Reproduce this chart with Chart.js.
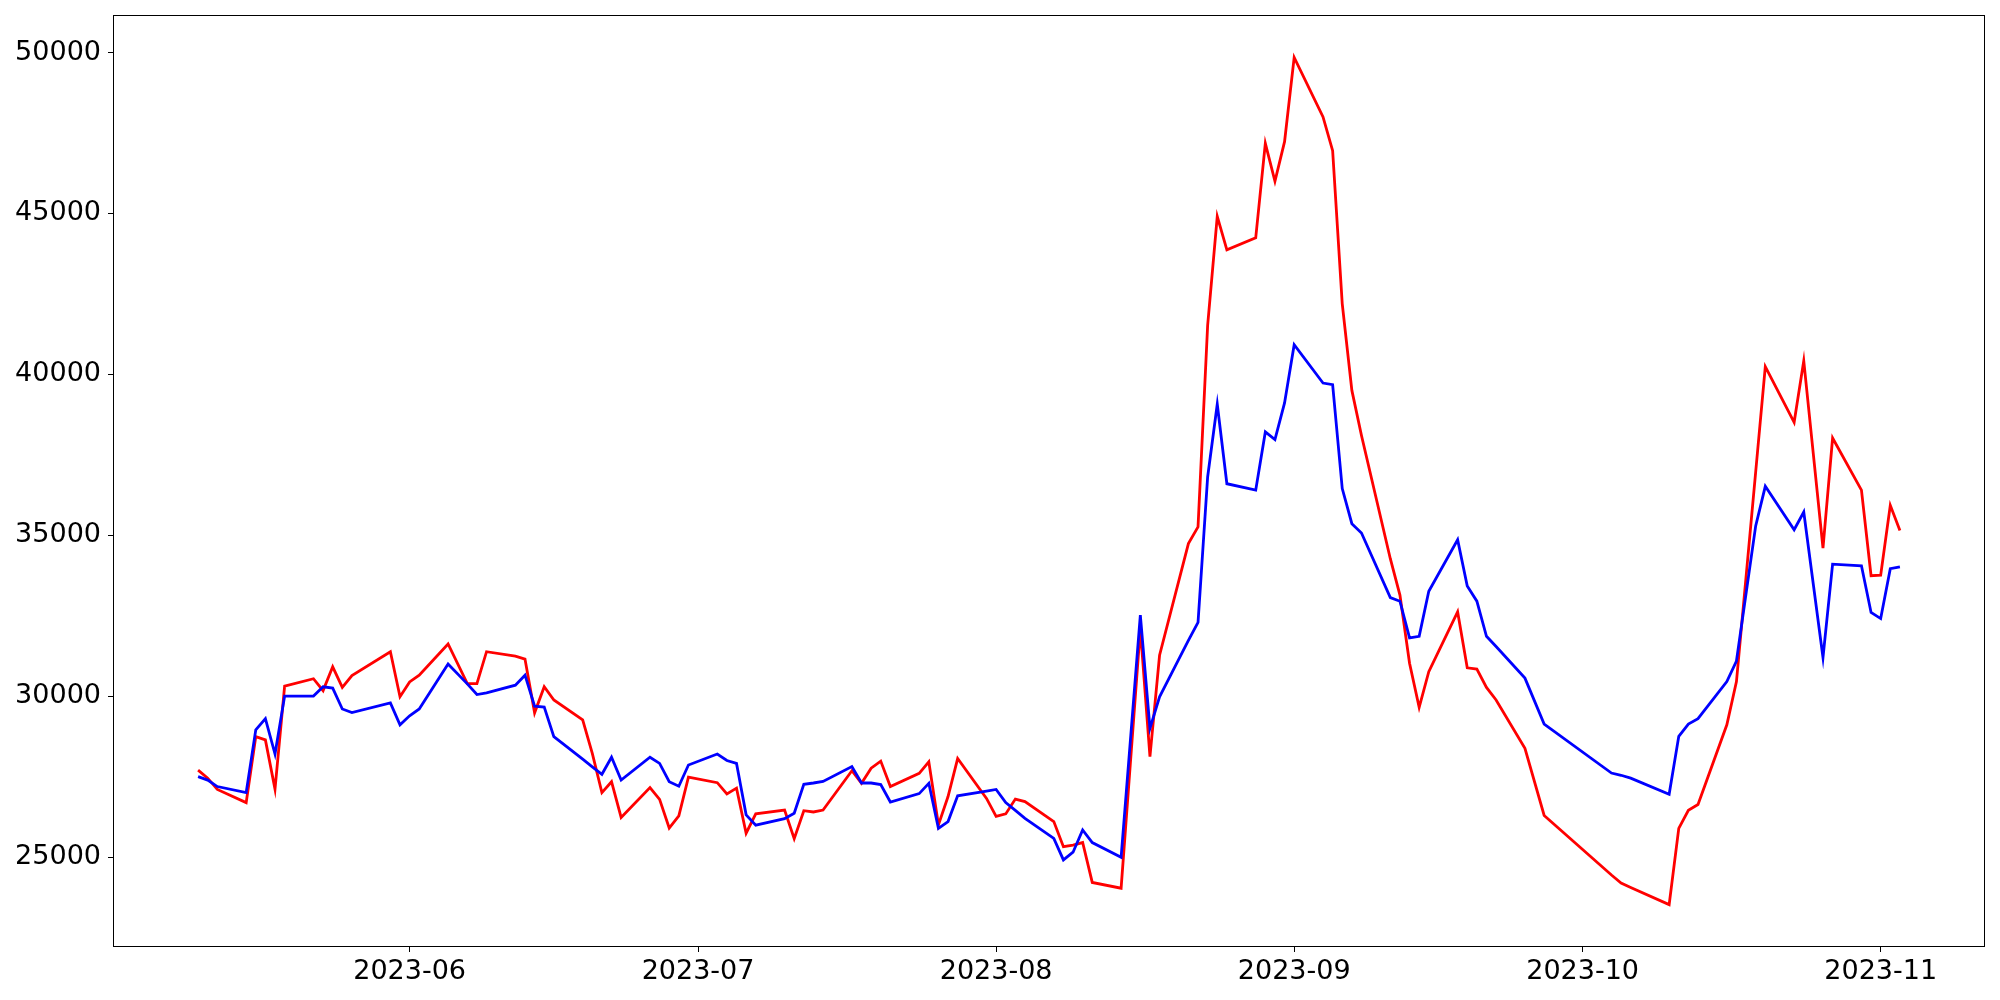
<!DOCTYPE html>
<html>
<head>
<meta charset="utf-8">
<script src="https://cdn.jsdelivr.net/npm/chart.js@4.4.0/dist/chart.umd.min.js"></script>
<style>
  html, body { margin: 0; padding: 0; background: #fff; }
  canvas { display: block; }
</style>
</head>
<body>
<canvas id="chart" width="2000" height="1000"></canvas>
<script>
// trading dates (some weekdays are missing in the source)
const dates = [
  '2023-05-10', '2023-05-11', '2023-05-12', '2023-05-15', '2023-05-16', '2023-05-17', '2023-05-18', '2023-05-19',
  '2023-05-22', '2023-05-23', '2023-05-24', '2023-05-25', '2023-05-26', '2023-05-30', '2023-05-31',
  '2023-06-01', '2023-06-02', '2023-06-05', '2023-06-07', '2023-06-08', '2023-06-09', '2023-06-12', '2023-06-13',
  '2023-06-14', '2023-06-15', '2023-06-16', '2023-06-19', '2023-06-20', '2023-06-21', '2023-06-22', '2023-06-23',
  '2023-06-26', '2023-06-27', '2023-06-28', '2023-06-29', '2023-06-30',
  '2023-07-03', '2023-07-04', '2023-07-05', '2023-07-06', '2023-07-07', '2023-07-10', '2023-07-11', '2023-07-12',
  '2023-07-13', '2023-07-14', '2023-07-17', '2023-07-18', '2023-07-19', '2023-07-20', '2023-07-21', '2023-07-24',
  '2023-07-25', '2023-07-26', '2023-07-27', '2023-07-28', '2023-07-31',
  '2023-08-01', '2023-08-02', '2023-08-03', '2023-08-04', '2023-08-07', '2023-08-08', '2023-08-09', '2023-08-10',
  '2023-08-11', '2023-08-14', '2023-08-16', '2023-08-17', '2023-08-18', '2023-08-21', '2023-08-22', '2023-08-23',
  '2023-08-24', '2023-08-25', '2023-08-28', '2023-08-29', '2023-08-30', '2023-08-31',
  '2023-09-01', '2023-09-04', '2023-09-05', '2023-09-06', '2023-09-07', '2023-09-08', '2023-09-11', '2023-09-12',
  '2023-09-13', '2023-09-14', '2023-09-15', '2023-09-18', '2023-09-19', '2023-09-20', '2023-09-21', '2023-09-22',
  '2023-09-25', '2023-09-27',
  '2023-10-04', '2023-10-05', '2023-10-06', '2023-10-10', '2023-10-11', '2023-10-12', '2023-10-13', '2023-10-16',
  '2023-10-17', '2023-10-19', '2023-10-20', '2023-10-23', '2023-10-24', '2023-10-26', '2023-10-27', '2023-10-30',
  '2023-10-31', '2023-11-01', '2023-11-02', '2023-11-03'
];

const redValues = [
  27700, 27450, 27100, 26690, 28740, 28640, 27110, 30310, 30540, 30170, 30910, 30270, 30640, 31380, 29980,
  30440, 30650, 31620, 30390, 30390, 31380, 31240, 31150, 29480, 30290, 29880, 29260, 28220, 27000, 27340,
  26230, 27160, 26790, 25900, 26280, 27480,
  27310, 26960, 27140, 25740, 26340, 26460, 25570, 26440, 26400, 26460, 27680, 27290, 27760, 27980, 27190,
  27600, 27960, 26000, 26880, 28060, 26820,
  26260, 26340, 26800, 26720, 26100, 25320, 25370, 25450, 24210, 24030, 32100, 28120, 31270, 34740, 35260,
  41520, 44910, 43870, 44240, 47180, 46000, 47230,
  49850, 48000, 46950, 42190, 39500, 38100, 34270, 33140, 31020, 29650, 30760, 32620, 30880, 30840, 30270,
  29880, 28380, 26290,
  24440, 24190, 24050, 23520, 25890, 26450, 26630, 29110, 30450, 36970, 40240, 38510, 40420, 34600, 38020,
  36400, 33740, 33760, 35930, 35150
];

const blueValues = [
  27500, 27390, 27190, 27000, 28950, 29300, 28200, 30000, 30000, 30290, 30250, 29600, 29490, 29790, 29110,
  29390, 29600, 31000, 30380, 30050, 30100, 30340, 30650, 29690, 29660, 28740, 28040, 27800, 27570, 28100,
  27390, 28100, 27910, 27340, 27200, 27860,
  28200, 28000, 27910, 26310, 25990, 26190, 26360, 27260, 27300, 27350, 27810, 27300, 27300, 27250, 26710,
  26970, 27290, 25890, 26100, 26900, 27050,
  27100, 26690, 26450, 26200, 25580, 24910, 25150, 25840, 25450, 24990, 32520, 29000, 29980, 31730, 32290,
  36810, 39070, 36600, 36400, 38210, 37970, 39110,
  40920, 39730, 39680, 36450, 35360, 35070, 33060, 32950, 31810, 31860, 33260, 34860, 33420, 32950, 31860,
  31540, 30560, 29130,
  27610, 27540, 27450, 26950, 28750, 29130, 29300, 30450, 31090, 35290, 36520, 35170, 35720, 31200, 34100,
  34050, 32600, 32410, 33960, 34020
];

const monthTicks = ['2023-06', '2023-07', '2023-08', '2023-09', '2023-10', '2023-11'];
const yTicks = [25000, 30000, 35000, 40000, 45000, 50000];

function toTime(s) {
  const p = s.split('-').map(Number);
  return Date.UTC(p[0], p[1] - 1, p[2] || 1);
}

const xs = dates.map(toTime);
const monthValues = monthTicks.map(toTime);

// matplotlib style 5% margins
const xSpan = xs[xs.length - 1] - xs[0];
const xMin = xs[0] - xSpan * 0.05;
const xMax = xs[xs.length - 1] + xSpan * 0.05;
const allVals = redValues.concat(blueValues);
const yLo = Math.min(...allVals);
const yHi = Math.max(...allVals);
const yMin = yLo - (yHi - yLo) * 0.05;
const yMax = yHi + (yHi - yLo) * 0.05;

const font = { family: 'DejaVu Sans', size: 27 };

// box around the plot area, like the matplotlib spines
const frame = {
  id: 'frame',
  afterDraw(chart) {
    const a = chart.chartArea;
    const c = chart.ctx;
    c.save();
    c.strokeStyle = '#000';
    c.lineWidth = 1;
    c.strokeRect(Math.round(a.left) + 0.5, Math.round(a.top) + 0.5,
      Math.round(a.right - a.left) - 1, Math.round(a.bottom - a.top) - 1);
    c.restore();
  }
};

const ctx = document.getElementById('chart').getContext('2d');
new Chart(ctx, {
  type: 'line',
  data: {
    datasets: [
      {
        data: xs.map((x, i) => ({ x: x, y: redValues[i] })),
        borderColor: '#ff0000',
        borderWidth: 2.8,
        pointRadius: 0,
        tension: 0,
        order: 2
      },
      {
        data: xs.map((x, i) => ({ x: x, y: blueValues[i] })),
        borderColor: '#0000ff',
        borderWidth: 2.8,
        pointRadius: 0,
        tension: 0,
        order: 1
      }
    ]
  },
  options: {
    responsive: false,
    animation: false,
    devicePixelRatio: 1,
    layout: { padding: { left: 0, top: 15, right: 15, bottom: 0 } },
    plugins: {
      legend: { display: false },
      tooltip: { enabled: false }
    },
    scales: {
      x: {
        type: 'linear',
        min: xMin,
        max: xMax,
        afterBuildTicks: s => { s.ticks = monthValues.map(v => ({ value: v })); },
        afterFit: s => { s.height = 53; },
        grid: { drawOnChartArea: false, drawTicks: true, tickLength: 5, color: '#000' },
        border: { display: false },
        ticks: {
          color: '#000',
          font: font,
          padding: 4,
          maxRotation: 0,
          autoSkip: false,
          callback: v => monthTicks[monthValues.indexOf(v)]
        }
      },
      y: {
        min: yMin,
        max: yMax,
        afterBuildTicks: s => { s.ticks = yTicks.map(v => ({ value: v })); },
        afterFit: s => {
          s.width = 113;
          // labels sit well inside the plot, so no extra room above/below
          s.paddingTop = 0;
          s.paddingBottom = 0;
        },
        grid: { drawOnChartArea: false, drawTicks: true, tickLength: 5, color: '#000' },
        border: { display: false },
        ticks: {
          color: '#000',
          font: font,
          padding: 7,
          callback: v => String(v)
        }
      }
    }
  },
  plugins: [frame]
});
</script>
</body>
</html>
